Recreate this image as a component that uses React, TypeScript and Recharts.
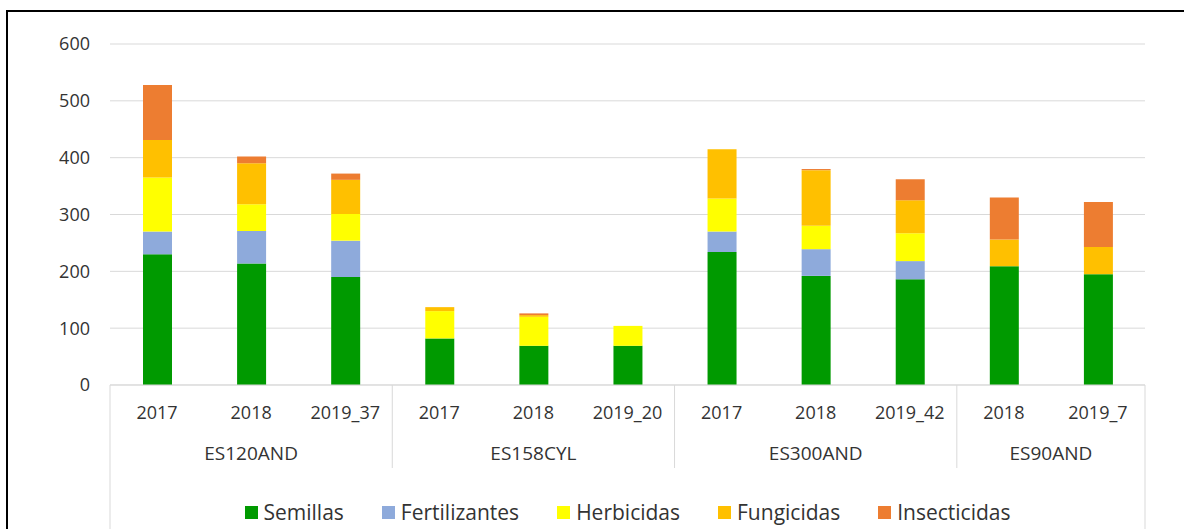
import { Bar, BarChart, CartesianGrid, Legend, XAxis, YAxis } from "recharts"

const groups = ["ES120AND", "ES158CYL", "ES300AND", "ES90AND"]
const years = ["2017", "2018", "2019_37", "2017", "2018", "2019_20", "2017", "2018", "2019_42", "2018", "2019_7"]
const groupOf = [0, 0, 0, 1, 1, 1, 2, 2, 2, 3, 3]

const semillas = [230, 214, 190, 82, 69, 69, 234, 192, 186, 209, 195]
const fertilizantes = [40, 57, 64, 0, 0, 0, 36, 47, 32, 0, 0]
const herbicidas = [95, 47, 47, 48, 51, 35, 58, 41, 49, 0, 0]
const fungicidas = [66, 72, 60, 7, 3, 0, 87, 98, 58, 47, 48]
const insecticidas = [97, 12, 11, 0, 3, 0, 0, 2, 37, 74, 79]

const yTicks = [0, 100, 200, 300, 400, 500, 600]

const series = [
  { key: "semillas", name: "Semillas", color: "#009a00" },
  { key: "fertilizantes", name: "Fertilizantes", color: "#8eaadb" },
  { key: "herbicidas", name: "Herbicidas", color: "#ffff00" },
  { key: "fungicidas", name: "Fungicidas", color: "#ffc000" },
  { key: "insecticidas", name: "Insecticidas", color: "#ed7d31" },
]

const data = years.map((year, i) => ({
  id: i,
  year,
  semillas: semillas[i],
  fertilizantes: fertilizantes[i],
  herbicidas: herbicidas[i],
  fungicidas: fungicidas[i],
  insecticidas: insecticidas[i],
}))

const W = 1184
const H = 529
const margin = { top: 44, right: 39, left: 50, bottom: 44 }
const yAxisWidth = 60
const plotLeft = margin.left + yAxisWidth
const plotWidth = W - plotLeft - margin.right
const band = plotWidth / years.length
const textColor = "#333333"
const font = "'Open Sans', sans-serif"

function CategoryTick(props: any) {
  const { x, y, index } = props
  const g = groupOf[index]
  const first = groupOf.indexOf(g)
  const count = groupOf.filter((v) => v === g).length
  const left = x - (index - first) * band - band / 2
  const last = index === groupOf.length - 1
  return (
    <g>
      <text x={x} y={y + 28} textAnchor="middle" fill={textColor} fontSize={18} fontFamily={font} dy="0.355em">
        {years[index]}
      </text>
      {index === first && (
        <>
          <line x1={left} x2={left} y1={y} y2={g === 0 ? H : y + 83} stroke="#d9d9d9" />
          <text
            x={left + (count * band) / 2}
            y={y + 68}
            textAnchor="middle"
            fill={textColor}
            fontSize={19}
            fontFamily={font}
            dy="0.355em"
          >
            {groups[g]}
          </text>
        </>
      )}
      {last && <line x1={x + band / 2} x2={x + band / 2} y1={y} y2={H} stroke="#d9d9d9" />}
    </g>
  )
}

function LegendContent() {
  return (
    <div style={{ display: "flex", justifyContent: "center", fontFamily: font, fontSize: 21, color: textColor }}>
      {series.map((s) => (
        <div key={s.key} style={{ display: "flex", alignItems: "center", margin: "0 19px" }}>
          <span style={{ width: 13, height: 13, background: s.color, marginRight: 6, display: "inline-block" }} />
          <span>{s.name}</span>
        </div>
      ))}
    </div>
  )
}

export default function App() {
  return (
    <div style={{ position: "absolute", left: 0, top: 0, width: W, height: H, background: "#fff" }}>
      <div
        style={{
          position: "absolute",
          left: 6,
          top: 10,
          width: W - 8,
          height: H - 12,
          borderTop: "2px solid #000",
          borderLeft: "2px solid #000",
        }}
      />
      <BarChart width={W} height={H} data={data} margin={margin}>
        <CartesianGrid vertical={false} stroke="#d9d9d9" />
        <XAxis
          dataKey="id"
          tickLine={false}
          tickSize={0}
          tickMargin={0}
          height={100}
          axisLine={{ stroke: "#d9d9d9" }}
          interval={0}
          tick={<CategoryTick />}
        />
        <YAxis
          width={yAxisWidth}
          domain={[0, 600]}
          ticks={yTicks}
          axisLine={false}
          tickLine={false}
          tickMargin={14}
          tick={{ fill: textColor, fontSize: 18, fontFamily: font }}
        />
        <Legend
          layout="horizontal"
          verticalAlign="middle"
          align="center"
          content={<LegendContent />}
          wrapperStyle={{ top: 498, left: plotLeft, width: plotWidth }}
        />
        {series.map((s) => (
          <Bar key={s.key} dataKey={s.key} name={s.name} stackId="a" fill={s.color} barSize={29} isAnimationActive={false} />
        ))}
      </BarChart>
    </div>
  )
}
